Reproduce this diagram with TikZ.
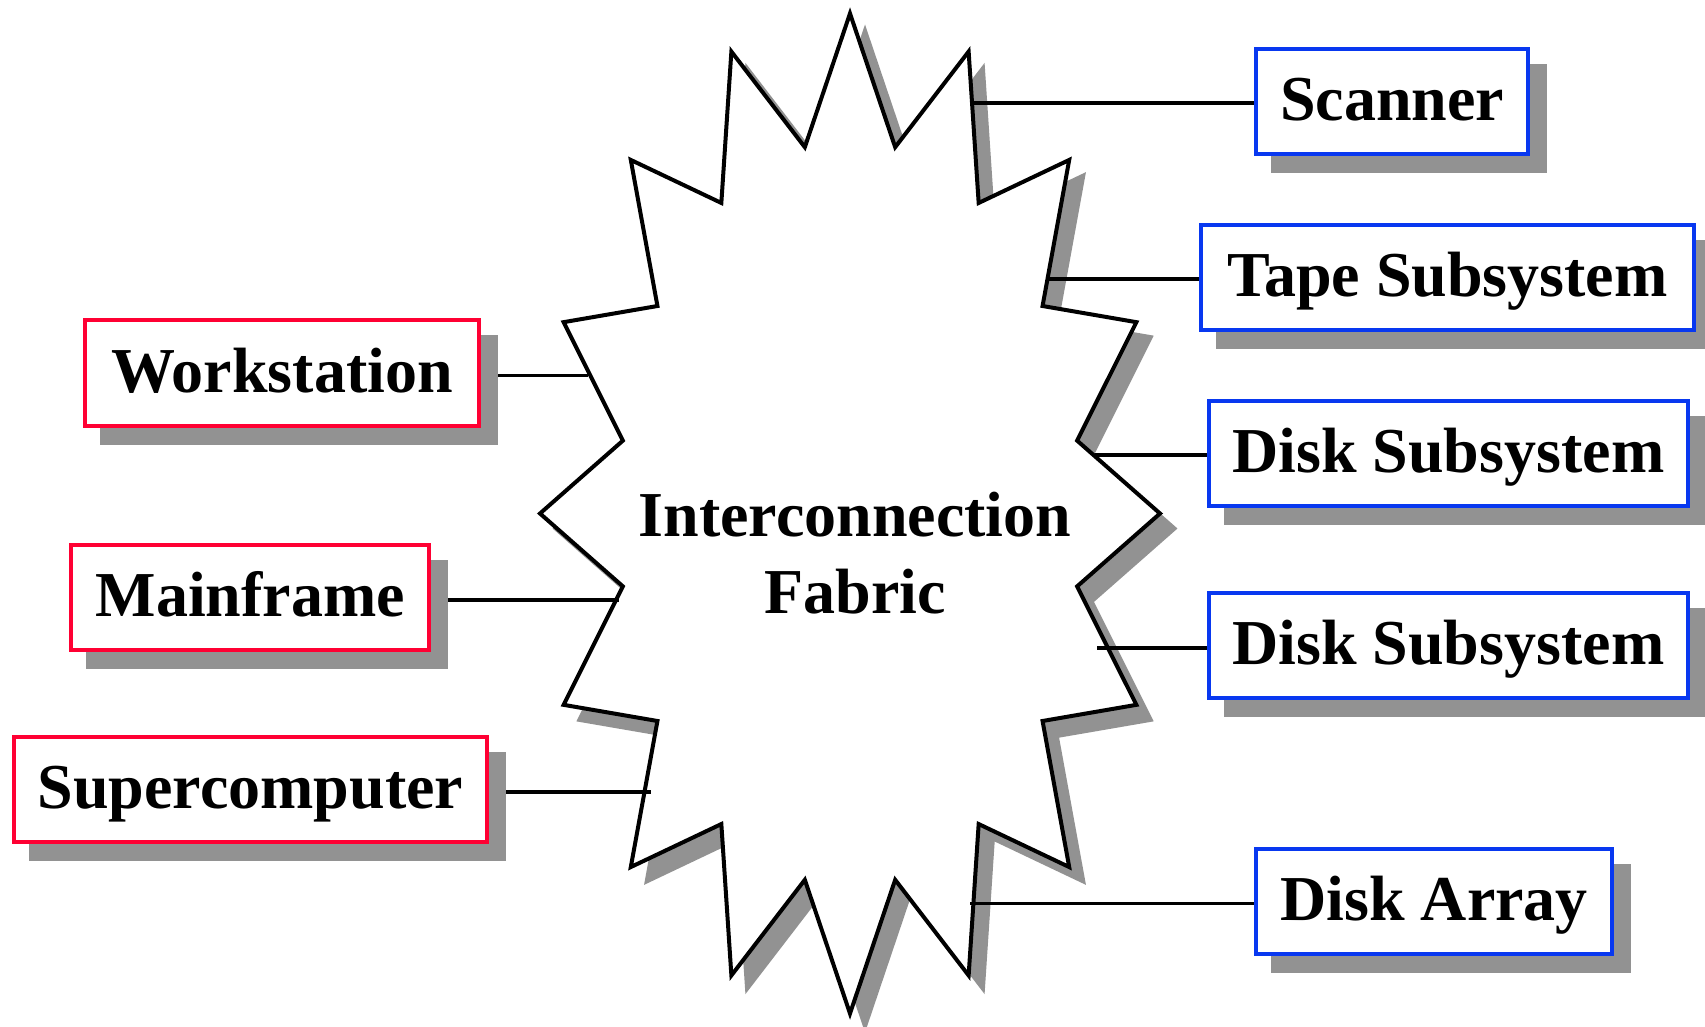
\documentclass[tikz,border=0pt]{standalone}
\usepackage{fontspec}
\setmainfont{Liberation Serif}
\usetikzlibrary{calc}

\definecolor{hostred}{RGB}{255,0,51}
\definecolor{storeblue}{RGB}{8,56,240}
\definecolor{dropgray}{RGB}{146,146,146}

\pgfdeclarelayer{fabriclayer}
\pgfdeclarelayer{wirelayer}
\pgfsetlayers{fabriclayer,wirelayer,main}

\tikzset{
  labelfont/.style={font=\fontsize{64}{77}\selectfont\bfseries},
  devbox/.style={labelfont, draw, line width=4pt, fill=white, inner sep=0pt,
    minimum height=105.5pt, text height=48pt, text depth=10pt,
    preaction={draw=dropgray, fill=dropgray, transform canvas={shift={(17,17)}}}},
  host/.style={devbox, draw=hostred},
  store/.style={devbox, draw=storeblue},
  wire/.style={line width=3.5pt},
  fabricedge/.style={line width=4pt, line join=miter, fill=white},
}

\begin{document}
\begin{tikzpicture}[x=1pt,y=-1pt]
\useasboundingbox (0,0) rectangle (1705,1027);

% attached devices
\node[store, minimum width=272pt]   (scanner) at (1392.2,101.4) {Scanner};
\node[store, minimum width=493pt]   (tape)    at (1447.5,277.5) {Tape Subsystem};
\node[store, minimum width=479pt]   (diskA)   at (1448.3,453.5) {Disk Subsystem};
\node[store, minimum width=479pt]   (diskB)   at (1448.3,645.5) {Disk Subsystem};
\node[store, minimum width=356pt]   (array)   at (1434.2,901.7) {Disk Array};
\node[host,  minimum width=393.7pt] (ws)      at (282.2,373.2)  {Workstation};
\node[host,  minimum width=357.7pt] (mf)      at (250.2,597.7)  {Mainframe};
\node[host,  minimum width=473.6pt] (sc)      at (250.5,789.6)  {Supercomputer};

% the fabric: a 16-point star on an ellipse
\coordinate (c) at (850,513.5);
\foreach \k in {0,...,16}{
  \coordinate (p\k) at ($(c)+({310*cos(90-22.5*\k)},{-500*sin(90-22.5*\k)})$);
  \coordinate (q\k) at ($(c)+({231.6*cos(78.75-22.5*\k)},{-373.5*sin(78.75-22.5*\k)})$);
}
\begin{pgfonlayer}{fabriclayer}
  \fill[dropgray] ($(c)!1.008!(p0)+(15,15)$)
    \foreach \k [count=\n] in {0,...,14}{
      -- ($(c)!1.008!(q\k)+(15,15)$) -- ($(c)!1.008!(p\n)+(15,15)$) }
    -- ($(c)!1.008!(q15)+(15,15)$) -- cycle;
  \draw[fabricedge] (p0)
    \foreach \k [count=\n] in {0,...,14}{ -- (q\k) -- (p\n) }
    -- (q15) -- cycle;
\end{pgfonlayer}
\node[labelfont, align=center] (fabric) at (855,553) {Interconnection\\Fabric};

% attachment points on the fabric
\coordinate (scanEnd)  at (970,103);
\coordinate (tapeEnd)  at (1047,279);
\coordinate (diskAEnd) at (1095,455);
\coordinate (diskBEnd) at (1097,648);
\coordinate (arrayEnd) at (970,903.5);
\coordinate (wsEnd)    at (588,375.5);
\coordinate (mfEnd)    at (619,600);
\coordinate (scEnd)    at (651,792);

\begin{pgfonlayer}{wirelayer}
  \draw[wire] (scanEnd)  -- (scanner.west |- scanEnd);
  \draw[wire] (tapeEnd)  -- (tape.west |- tapeEnd);
  \draw[wire] (diskAEnd) -- (diskA.west |- diskAEnd);
  \draw[wire] (diskBEnd) -- (diskB.west |- diskBEnd);
  \draw[wire] (arrayEnd) -- (array.west |- arrayEnd);
  \draw[wire] (ws.east |- wsEnd) -- (wsEnd);
  \draw[wire] (mf.east |- mfEnd) -- (mfEnd);
  \draw[wire] (sc.east |- scEnd) -- (scEnd);
\end{pgfonlayer}
\end{tikzpicture}
\end{document}
